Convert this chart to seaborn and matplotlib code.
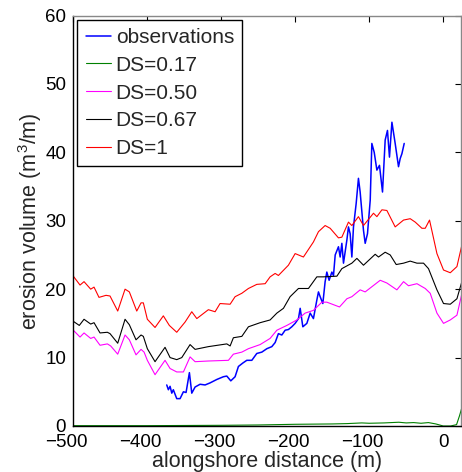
import numpy as np
import pandas as pd
import matplotlib
matplotlib.use("Agg")
import matplotlib.pyplot as plt
import matplotlib.transforms as mtransforms
import seaborn as sns

# Observed erosion volume along the coast
obs_x = [-373.4, -371.2, -368.9, -366.6, -364.5, -359.9, -355.4, -350.9, -347.3, -342.8,
         -339.6, -335.1, -328.4, -321.6, -314.9, -305.8, -296.9, -292.3, -286.9, -281.1,
         -276.6, -270.7, -265.3, -258.5, -251.8, -245.0, -238.2, -231.5, -227.0, -222.6,
         -218.0, -213.5, -209.1, -204.5, -200.0, -195.5, -193.2, -189.6, -184.2, -179.7,
         -175.3, -170.7, -168.5, -166.2, -162.6, -159.5, -157.2, -154.1, -150.4, -148.2,
         -145.9, -141.5, -139.2, -136.9, -134.7, -130.1, -128.0, -125.7, -123.4, -121.2,
         -117.6, -114.5, -112.2, -107.7, -105.4, -102.3, -98.6, -96.4, -93.2, -89.6,
         -86.1, -82.0, -78.4, -75.3, -72.6, -69.3, -64.9, -60.4, -58.1, -55.8, -52.7]
obs_y = [6.0, 5.3, 5.8, 4.8, 5.3, 4.0, 4.0, 5.0, 4.9, 7.8,
         4.8, 5.7, 6.1, 6.0, 6.3, 6.8, 7.2, 7.3, 6.6, 7.2,
         8.7, 9.2, 9.6, 9.6, 10.6, 10.8, 11.3, 11.6, 12.2, 13.5,
         13.3, 14.0, 14.1, 14.5, 15.0, 15.7, 17.2, 14.5, 15.0, 16.5,
         15.7, 18.4, 19.6, 18.9, 17.9, 21.1, 22.5, 21.3, 22.5, 22.0,
         25.0, 26.2, 24.7, 26.7, 23.8, 27.2, 29.1, 28.1, 24.7, 29.1,
         32.5, 36.2, 34.2, 28.6, 26.7, 28.1, 33.0, 41.3, 40.0, 37.4,
         38.1, 34.2, 41.8, 43.2, 39.3, 44.4, 41.3, 37.9, 39.1, 39.8, 41.3]
# isolated observation sample
obs2_x = [-52.0, -51.2]
obs2_y = [45.3, 45.3]

# Modelled erosion volume for each DS value
ds017_x = [-500, -400, -300, -250, -200, -150, -130, -110, -100, -80, -60, -50, -40,
           -30, -20, -10, 0, 10, 18, 22, 26]
ds017_y = [0.05, 0.05, 0.1, 0.15, 0.25, 0.3, 0.35, 0.45, 0.4, 0.45, 0.55, 0.45, 0.5,
           0.4, 0.5, 0.3, 0.0, 0.0, 0.2, 1.5, 3.0]

ds050_x = [-499.6, -490.5, -485.1, -476.1, -471.6, -463.5, -453.6, -449.1, -439.6, -429.7,
           -423.9, -414.9, -408.1, -404.0, -399.6, -389.2, -375.7, -368.9, -359.9, -350.9,
           -341.9, -335.1, -317.2, -290.1, -283.4, -272.0, -263.1, -247.3, -233.8, -224.7,
           -211.2, -197.7, -186.5, -175.3, -163.9, -157.2, -140.1, -130.1, -123.4, -112.2,
           -105.4, -85.1, -76.1, -62.6, -53.6, -46.9, -35.5, -24.3, -17.6, -8.5,
           0.4, 9.5, 18.5, 25.7]
ds050_y = [14.0, 13.0, 13.6, 12.8, 13.0, 11.8, 12.0, 11.7, 10.5, 13.3,
           12.6, 10.4, 11.2, 10.8, 9.6, 7.5, 9.6, 8.4, 7.9, 7.9,
           10.1, 9.4, 9.5, 9.6, 10.5, 10.8, 11.3, 11.9, 12.8, 14.0,
           14.7, 15.5, 16.5, 16.9, 18.1, 18.1, 17.4, 18.6, 18.9, 19.9,
           19.6, 21.3, 20.9, 19.9, 21.1, 20.5, 20.8, 20.1, 19.4, 16.5,
           15.0, 15.5, 16.2, 19.6]

ds067_x = [-499.6, -491.5, -485.1, -476.1, -471.6, -463.5, -453.6, -450.0, -439.6, -429.7,
           -423.9, -414.9, -408.1, -405.0, -399.6, -389.2, -375.7, -368.9, -359.9, -353.1,
           -341.9, -335.1, -317.2, -292.3, -287.8, -283.4, -272.0, -263.1, -247.3, -233.8,
           -224.7, -215.8, -206.8, -195.5, -182.0, -170.7, -161.8, -143.6, -136.9, -123.4,
           -116.6, -107.7, -91.9, -87.4, -78.4, -71.6, -63.5, -53.6, -44.6, -35.5,
           -26.6, -19.9, -8.5, 0.4, 9.5, 18.5, 25.7]
ds067_y = [15.3, 14.7, 15.6, 14.9, 15.1, 13.6, 13.7, 13.5, 12.1, 15.6,
           14.8, 12.6, 13.3, 13.1, 11.3, 9.4, 11.5, 10.0, 9.7, 10.0,
           11.9, 11.2, 11.6, 12.0, 11.7, 12.9, 13.1, 14.5, 15.1, 15.5,
           16.5, 17.2, 18.9, 20.1, 20.1, 21.8, 21.8, 21.9, 23.0, 23.8,
           24.5, 23.5, 25.1, 24.7, 25.4, 25.0, 23.6, 23.8, 24.1, 23.8,
           23.8, 23.0, 19.9, 17.9, 17.8, 18.6, 21.3]

ds1_x = [-499.6, -490.5, -485.1, -476.1, -471.6, -464.9, -455.4, -450.0, -439.6, -429.7,
         -423.9, -413.9, -408.1, -405.0, -399.6, -389.2, -378.0, -369.9, -359.9, -348.6,
         -339.6, -332.8, -317.2, -308.1, -301.4, -287.8, -281.1, -272.0, -263.1, -251.8,
         -240.5, -233.8, -227.0, -222.6, -209.1, -200.0, -188.8, -175.3, -168.5, -159.5,
         -152.7, -141.5, -136.9, -128.0, -123.4, -114.5, -107.7, -94.2, -89.6, -82.8,
         -76.1, -64.9, -53.6, -44.6, -37.8, -28.8, -24.3, -18.5, -8.5, 0.4,
         9.5, 18.5, 25.7]
ds1_y = [21.9, 20.6, 21.1, 20.0, 20.3, 18.8, 19.1, 19.0, 16.8, 20.0,
         19.6, 16.8, 18.0, 18.0, 15.6, 14.4, 16.1, 14.7, 13.7, 15.2,
         16.7, 15.7, 17.0, 16.7, 17.9, 17.8, 18.9, 19.4, 20.1, 20.7,
         20.8, 21.8, 22.3, 22.0, 23.5, 25.2, 24.7, 26.9, 28.4, 29.3,
         28.9, 27.5, 27.6, 29.8, 29.3, 30.6, 29.3, 31.1, 30.6, 31.6,
         31.5, 29.1, 30.1, 30.3, 29.8, 28.9, 28.9, 30.1, 25.2, 22.8,
         22.4, 23.3, 26.7]

x_ticks = [-500, -400, -300, -200, -100, 0]
x_tick_labels = ["\u2212500", "\u2212400", "\u2212300", "\u2212200", "\u2212100", "0"]
y_ticks = [0, 10, 20, 30, 40, 50, 60]

sns.set_style("white")
plt.rcParams["font.family"] = ["Liberation Sans", "DejaVu Sans"]
plt.rcParams["mathtext.fontset"] = "custom"
plt.rcParams["mathtext.rm"] = "Liberation Sans"

fig = plt.figure(figsize=(4.62, 4.72), dpi=100)
ax = fig.add_axes([73 / 462, 1 - 426 / 472, (461 - 73) / 462, (426 - 15.5) / 472])

series = [
    ("observations", obs_x, obs_y, (0, 0, 1), 1.1),
    ("DS=0.17", ds017_x, ds017_y, (0, 0.5, 0), 0.8),
    ("DS=0.50", ds050_x, ds050_y, (1, 0, 1), 0.8),
    ("DS=0.67", ds067_x, ds067_y, (0, 0, 0), 0.8),
    ("DS=1", ds1_x, ds1_y, (1, 0, 0), 0.8),
]
for label, xs, ys, col, lw in series:
    df = pd.DataFrame({"x": xs, "y": ys})
    sns.lineplot(data=df, x="x", y="y", ax=ax, color=col, linewidth=lw,
                 label=label, estimator=None, sort=False)
    if label == "observations":
        df2 = pd.DataFrame({"x": obs2_x, "y": obs2_y})
        sns.lineplot(data=df2, x="x", y="y", ax=ax, color=col, linewidth=lw,
                     estimator=None, sort=False, legend=False)

ax.set_xlim(-500, 24)
ax.set_ylim(0, 60)
ax.set_xticks(x_ticks)
ax.set_yticks(y_ticks)
ax.set_xticklabels(x_tick_labels)
ax.tick_params(direction="in", length=4, width=0.8, top=True, right=True,
               labelsize=13.5, colors="black")
ax.tick_params(axis="x", pad=6)
ax.tick_params(axis="y", pad=5)

# negative labels are centred on their digits, with the minus sign hanging left
shift = mtransforms.ScaledTranslation(-7 / 100, 0, fig.dpi_scale_trans)
for lab in ax.get_xticklabels():
    if lab.get_text().startswith("\u2212"):
        lab.set_transform(lab.get_transform() + shift)

for side in ["left", "bottom"]:
    ax.spines[side].set_color("black")
    ax.spines[side].set_linewidth(1.0)
for side in ["top", "right"]:
    ax.spines[side].set_color("#888888")
    ax.spines[side].set_linewidth(1.0)

ax.set_xlabel("alongshore distance (m)", fontsize=15.5, labelpad=-0.5)
ax.set_ylabel("erosion volume (m$^3$/m)", fontsize=15.5, labelpad=1)

leg = ax.legend(loc="upper left", fontsize=15, frameon=True, fancybox=False,
                edgecolor="black", framealpha=1, handlelength=1.2, handletextpad=0.25,
                borderpad=0.4, labelspacing=0.42, borderaxespad=0.2)
leg.get_frame().set_linewidth(1.0)

fig.savefig("out.png", dpi=100)
